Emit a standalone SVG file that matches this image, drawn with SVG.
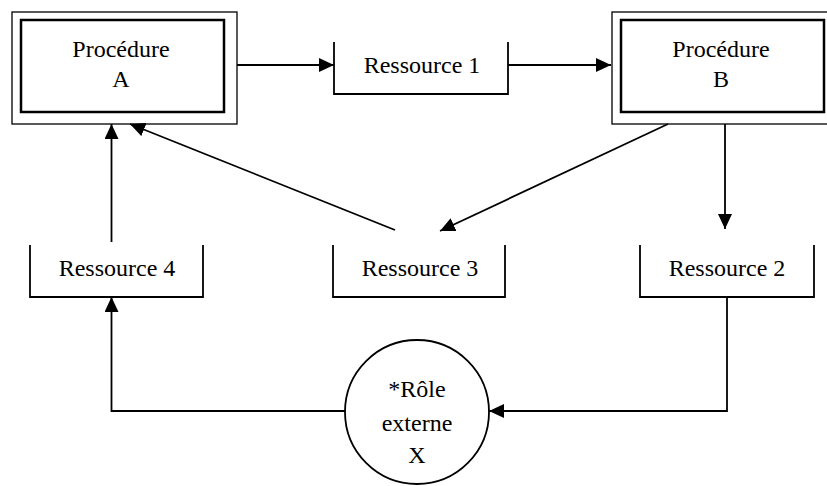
<svg xmlns="http://www.w3.org/2000/svg" width="827" height="486" viewBox="0 0 827 486">
<style>
.t{font-family:"Liberation Serif","Times New Roman",serif;font-size:24px;fill:#000;text-anchor:middle}
.outer{fill:none;stroke:#000;stroke-width:1.3}
.inner{fill:none;stroke:#000;stroke-width:2.5}
.res{fill:none;stroke:#000;stroke-width:1.8}
.c{fill:none;stroke:#000;stroke-width:1.8}
</style>
<defs>
<marker id="ah" viewBox="0 0 15 14" refX="15" refY="7" markerWidth="15" markerHeight="14" markerUnits="userSpaceOnUse" orient="auto">
<path d="M0,0 L15,7 L0,14 z" fill="#000"/>
</marker>
</defs>
<rect width="827" height="486" fill="#fff"/>
<g id="procA">
<rect class="outer" x="12" y="12" width="225" height="112"/>
<rect class="inner" x="21" y="20" width="203" height="92"/>
<text class="t" x="121" y="57">Procédure</text>
<text class="t" x="121" y="87">A</text>
</g>
<g id="procB">
<rect class="outer" x="612" y="12" width="225" height="112"/>
<rect class="inner" x="621" y="20" width="203" height="92"/>
<text class="t" x="721" y="57">Procédure</text>
<text class="t" x="721" y="87">B</text>
</g>
<g id="res1">
<path class="res" d="M334,42 V94 H508 V42"/>
<text class="t" x="422" y="73">Ressource 1</text>
</g>
<g id="res4">
<path class="res" d="M30,245 V297 H203 V245"/>
<text class="t" x="117" y="276">Ressource 4</text>
</g>
<g id="res3">
<path class="res" d="M333,245 V297 H505 V245"/>
<text class="t" x="420" y="276">Ressource 3</text>
</g>
<g id="res2">
<path class="res" d="M640,245 V297 H814 V245"/>
<text class="t" x="727" y="276">Ressource 2</text>
</g>
<g id="roleX">
<circle class="c" cx="417" cy="412" r="72"/>
<text class="t" x="417" y="397">*Rôle</text>
<text class="t" x="417" y="431">externe</text>
<text class="t" x="417" y="463">X</text>
</g>
<g id="connectors" fill="none" stroke="#000" stroke-width="1.8">
<line x1="237" y1="65" x2="334" y2="65" marker-end="url(#ah)"/>
<line x1="508" y1="65" x2="611" y2="65" marker-end="url(#ah)"/>
<line x1="725" y1="124" x2="725" y2="229" marker-end="url(#ah)"/>
<line x1="668" y1="124" x2="440" y2="231" marker-end="url(#ah)"/>
<line x1="395" y1="230" x2="130" y2="124" marker-end="url(#ah)"/>
<line x1="111.5" y1="242" x2="111.5" y2="124" marker-end="url(#ah)"/>
<polyline points="727,297 727,411 489,411" marker-end="url(#ah)"/>
<polyline points="345,411 111.5,411 111.5,297" marker-end="url(#ah)"/>
</g>
</svg>
